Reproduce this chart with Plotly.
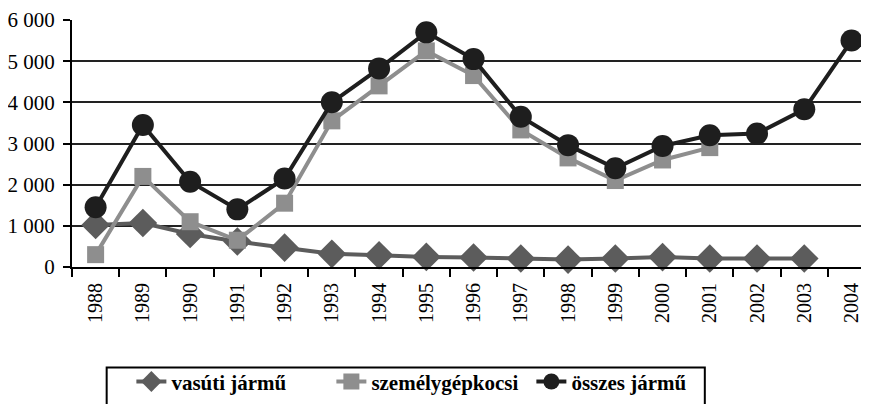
import plotly.graph_objects as go

years = ["1988", "1989", "1990", "1991", "1992", "1993", "1994", "1995", "1996",
         "1997", "1998", "1999", "2000", "2001", "2002", "2003", "2004"]
vasuti = [1020, 1070, 800, 620, 470, 320, 285, 245, 230, 205, 180, 205, 240, 205, 205, 205, None]
szemely = [300, 2200, 1100, 650, 1550, 3550, 4400, 5250, 4650, 3330, 2650, 2100, 2600, 2900, None, None, None]
osszes = [1450, 3450, 2070, 1400, 2150, 4000, 4820, 5700, 5050, 3650, 2960, 2400, 2940, 3200, 3240, 3830, 5500]

ytick_vals = [0, 1000, 2000, 3000, 4000, 5000, 6000]
ytick_text = ["0", "1 000", "2 000", "3 000", "4 000", "5 000", "6 000"]

SERIF = "Liberation Serif"

fig = go.Figure()
fig.add_trace(go.Scatter(x=years, y=vasuti, name="vasúti jármű", mode="lines+markers",
                         line=dict(color="#5c5c5c", width=4),
                         marker=dict(symbol="diamond", size=22, color="#5c5c5c"),
                         cliponaxis=False))
fig.add_trace(go.Scatter(x=years, y=szemely, name="személygépkocsi", mode="lines+markers",
                         line=dict(color="#8e8e8e", width=4),
                         marker=dict(symbol="square", size=17, color="#8e8e8e"),
                         cliponaxis=False))
fig.add_trace(go.Scatter(x=years, y=osszes, name="összes jármű", mode="lines+markers",
                         line=dict(color="#1e1e1e", width=4),
                         marker=dict(symbol="circle", size=22, color="#1e1e1e"),
                         cliponaxis=False))

# page body has an 8px margin, so the figure is 861x396 to fill the 869x404 window
fig.update_layout(
    width=861, height=396,
    margin=dict(l=64, r=0, t=12, b=137, autoexpand=False),
    paper_bgcolor="white", plot_bgcolor="white",
    font=dict(family=SERIF, color="black"),
    showlegend=True,
    legend=dict(orientation="h", x=0.0745, xanchor="left", y=-0.382, yanchor="top",
                font=dict(family=SERIF, size=21, color="black", weight="bold"),
                bgcolor="rgba(0,0,0,0)", borderwidth=0, entrywidth=155,
                traceorder="normal"),
    shapes=[dict(type="rect", xref="paper", yref="paper",
                 x0=0.0435, x1=0.794, y0=-0.4064, y1=-0.65,
                 line=dict(color="black", width=2), layer="above")],
)
fig.update_xaxes(type="category", range=[-0.5, 16.37], automargin=False,
                 showline=True, linecolor="black", linewidth=2,
                 ticks="outside", tickson="boundaries", ticklen=8, tickwidth=2, tickcolor="black",
                 tickangle=-90, tickfont=dict(family=SERIF, size=20, color="black"),
                 ticklabelstandoff=6,
                 showgrid=False, zeroline=False)
fig.update_yaxes(range=[0, 6000], tickvals=ytick_vals, ticktext=ytick_text, automargin=False,
                 showline=True, linecolor="black", linewidth=2,
                 ticks="outside", ticklen=7, tickwidth=2, tickcolor="black",
                 tickfont=dict(family=SERIF, size=21, color="black"), ticklabelstandoff=4,
                 showgrid=True, gridcolor="#222222", gridwidth=1.5, zeroline=False)

fig.write_html("out.html")
